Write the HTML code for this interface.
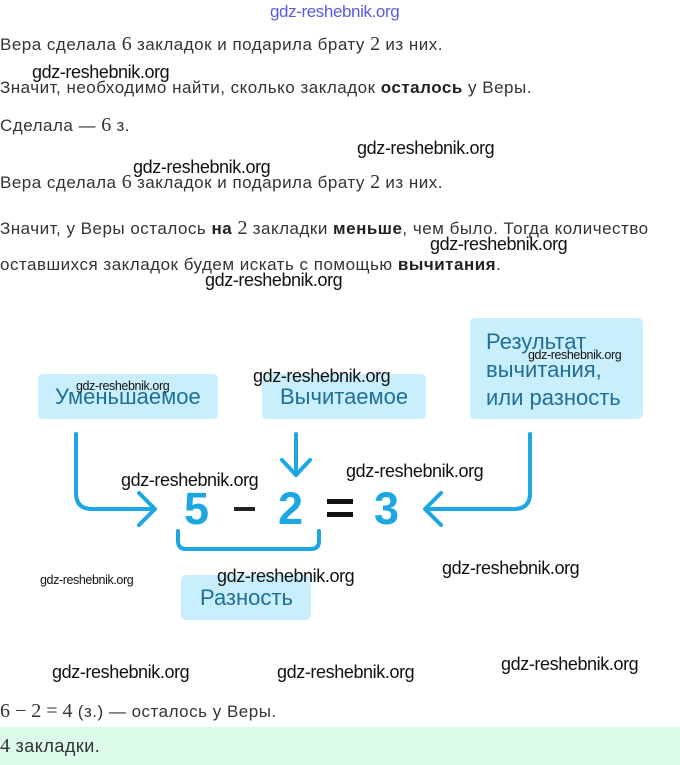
<!DOCTYPE html>
<html><head><meta charset="utf-8"><style>
body{margin:0;width:680px;height:765px;background:#fff;position:relative;overflow:hidden;font-family:"Liberation Sans","DejaVu Sans",sans-serif;}
.t{position:absolute;left:0;font-size:17px;letter-spacing:0.5px;color:#333;white-space:nowrap;line-height:20px;}
.t b{color:#222}
.m{font-family:"Liberation Serif",serif;font-size:20px;letter-spacing:0;}
.w{position:absolute;font-size:18px;color:#111;white-space:nowrap;line-height:18px;letter-spacing:-0.4px;}
.s{font-size:12.5px;letter-spacing:-0.4px;}
.box{position:absolute;background:#c8effb;border-radius:5px;color:#1f6e98;font-size:22px;line-height:26px;}
.d{position:absolute;font-size:45px;font-weight:bold;color:#1ca6e2;line-height:50px;top:484px;}
</style></head><body>
<div class="w" style="left:270px;top:3px;color:#5a5ae0;font-size:17px;">gdz-reshebnik.org</div>
<div class="t" style="top:34px">Вера сделала <span class="m">6</span> закладок и подарила брату <span class="m">2</span> из них.</div>
<div class="w" style="left:32px;top:63px">gdz-reshebnik.org</div>
<div class="t" style="top:78px">Значит, необходимо найти, сколько закладок <b>осталось</b> у Веры.</div>
<div class="t" style="top:115px">Сделала — <span class="m">6</span> з.</div>
<div class="w" style="left:357px;top:139px">gdz-reshebnik.org</div>
<div class="w" style="left:133px;top:158px">gdz-reshebnik.org</div>
<div class="t" style="top:172px">Вера сделала <span class="m">6</span> закладок и подарила брату <span class="m">2</span> из них.</div>
<div class="t" style="top:218px">Значит, у Веры осталось <b>на</b> <span class="m">2</span> закладки <b>меньше</b>, чем было. Тогда количество</div>
<div class="w" style="left:430px;top:235px">gdz-reshebnik.org</div>
<div class="t" style="top:255px">оставшихся закладок будем искать с помощью <b>вычитания</b>.</div>
<div class="w" style="left:205px;top:271px">gdz-reshebnik.org</div>

<div class="box" style="left:38px;top:374px;width:180px;height:45px;"><div style="position:absolute;left:17px;top:10px">Уменьшаемое</div></div>
<div class="box" style="left:262px;top:374px;width:164px;height:45px;"><div style="position:absolute;left:18px;top:10px">Вычитаемое</div></div>
<div class="box" style="left:470px;top:318px;width:173px;height:101px;"><div style="position:absolute;left:16px;top:10px;line-height:28px">Результат<br>вычитания,<br>или разность</div></div>
<div class="box" style="left:181px;top:575px;width:130px;height:45px;"><div style="position:absolute;left:19px;top:10px">Разность</div></div>

<svg width="680" height="765" style="position:absolute;left:0;top:0" fill="none" stroke="#1ca6e2" stroke-width="4" stroke-linecap="round" stroke-linejoin="round">
<path d="M76 434 V493 Q76 509 92 509 H154"/>
<path d="M139 493 L155 509 L139 525"/>
<path d="M296 434 V475"/>
<path d="M282 460 L296 475 L310 460"/>
<path d="M530 434 V493 Q530 509 514 509 H426"/>
<path d="M441 493 L425 509 L441 525"/>
<path d="M178 531 V541 Q178 549 186 549 H311 Q319 549 319 541 V531"/>
</svg>

<div class="d" style="left:184px">5</div>
<div style="position:absolute;left:234px;top:507px;width:21px;height:4px;background:#222"></div>
<div class="d" style="left:278px">2</div>
<div style="position:absolute;left:327px;top:499px;width:26px;height:5px;background:#111"></div>
<div style="position:absolute;left:327px;top:512px;width:26px;height:5px;background:#111"></div>
<div class="d" style="left:374px">3</div>

<div class="w s" style="left:76px;top:377px">gdz-reshebnik.org</div>
<div class="w" style="left:253px;top:367px">gdz-reshebnik.org</div>
<div class="w s" style="left:528px;top:346px">gdz-reshebnik.org</div>
<div class="w" style="left:121px;top:471px">gdz-reshebnik.org</div>
<div class="w" style="left:346px;top:462px">gdz-reshebnik.org</div>
<div class="w s" style="left:40px;top:571px">gdz-reshebnik.org</div>
<div class="w" style="left:217px;top:567px">gdz-reshebnik.org</div>
<div class="w" style="left:442px;top:559px">gdz-reshebnik.org</div>
<div class="w" style="left:52px;top:663px">gdz-reshebnik.org</div>
<div class="w" style="left:277px;top:663px">gdz-reshebnik.org</div>
<div class="w" style="left:501px;top:655px">gdz-reshebnik.org</div>

<div class="t" style="top:701px"><span class="m">6 − 2 = 4</span> (з.) — осталось у Веры.</div>
<div style="position:absolute;left:0;top:727px;width:680px;height:38px;background:#dcfbe9"></div>
<div class="t" style="top:736px;font-size:18px"><span class="m">4</span> закладки.</div>
</body></html>
